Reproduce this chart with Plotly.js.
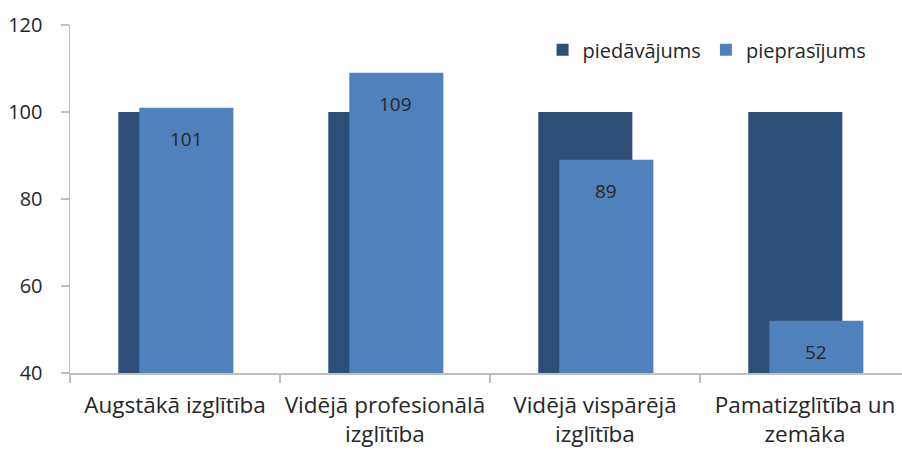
<!DOCTYPE html>
<html><head><meta charset="utf-8">
<script src="https://cdn.plot.ly/plotly-3.0.1.min.js"></script>
<style>html,body{margin:0;padding:0;background:#fff;}#c{width:902px;height:452px;}</style>
</head><body><div id="c"></div>
<script>
const categories = ["Augstākā izglītība", "Vidējā profesionālā<br>izglītība", "Vidējā vispārējā<br>izglītība", "Pamatizglītība un<br>zemāka"];
const supply = [100, 100, 100, 100];
const demand = [101, 109, 89, 52];
const seriesNames = ["piedāvājums", "pieprasījums"];
const yTicks = [40, 60, 80, 100, 120];
const FONT = "Open Sans, Noto Sans, sans-serif";
const TXT = "#262626";

const traces = [
  {type:'bar', x: categories, y: supply, name: seriesNames[0], marker:{color:'#2D4E76'},
   width:0.448, offset:-0.27, hoverinfo:'none'},
  {type:'bar', x: categories, y: demand, name: seriesNames[1], marker:{color:'#4F81BD'},
   width:0.448, offset:-0.17, hoverinfo:'none'}
];
const annotations = demand.map((v,i)=>({
  x: categories[i], y: v, xref:'x', yref:'y', text: String(v), showarrow:false,
  xshift: 11, yanchor:'top', yshift:-16, font:{family:FONT, size:19, color:TXT}
}));
const layout = {
  width:902, height:452, margin:{l:70, r:0, t:25, b:79},
  paper_bgcolor:'#fff', plot_bgcolor:'#fff', barmode:'overlay', showlegend:true,
  font:{family:FONT, size:20, color:TXT},
  xaxis:{type:'category', range:[-0.5, 3.462], tickangle:0,
    tickson:'boundaries', ticks:'outside', ticklen:8, tickcolor:'#BFBFBF', tickwidth:1.5,
    showline:true, linecolor:'#BFBFBF', linewidth:1.5, showgrid:false, zeroline:false,
    ticklabelstandoff:11, fixedrange:true, tickfont:{family:FONT, size:22.5, color:TXT}},
  yaxis:{range:[40,120], tickvals: yTicks, ticks:'outside', ticklen:8,
    tickcolor:'#BFBFBF', tickwidth:1.5, showline:true, linecolor:'#BFBFBF', linewidth:1.5,
    showgrid:false, zeroline:false, ticklabelstandoff:14, tickfont:{family:FONT, size:20, color:TXT}},
  legend:{orientation:'h', x:0.568, xanchor:'left', y:0.985, yanchor:'top',
    font:{family:FONT, size:20, color:TXT}, itemwidth:20, tracegroupgap:0},
  annotations: annotations
};
Plotly.newPlot('c', traces, layout, {staticPlot:true});
</script></body></html>
